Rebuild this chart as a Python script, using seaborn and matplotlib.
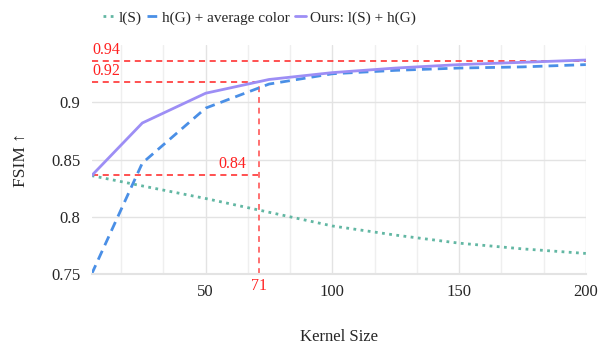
import matplotlib
matplotlib.use("Agg")
import matplotlib.pyplot as plt
import seaborn as sns
import pandas as pd
from matplotlib.ticker import MultipleLocator

kernel = [5, 25, 50, 75, 100, 125, 150, 175, 200]
l_s = [0.836, 0.827, 0.816, 0.804, 0.792, 0.784, 0.777, 0.772, 0.768]
h_g = [0.750, 0.847, 0.895, 0.916, 0.925, 0.928, 0.930, 0.931, 0.933]
ours = [0.836, 0.882, 0.908, 0.920, 0.926, 0.930, 0.933, 0.935, 0.937]

names = ["l(S)", "h(G) + average color", "Ours: l(S) + h(G)"]
colors = ["#62b7a3", "#4a8fe6", "#9d8ef5"]
styles = [(0, (1, 1.6)), (0, (3.5, 2.2)), "-"]

ref_x = 71
ref_y = [0.9358, 0.9175, 0.8363]
ref_labels = ["0.94", "0.92", "0.84"]

sns.set_theme(style="whitegrid")
plt.rcParams["font.family"] = ["Liberation Serif", "DejaVu Serif"]

fig = plt.figure(figsize=(5.99, 3.5), dpi=100)
ax = fig.add_axes([0.153, 0.217, 0.825, 0.654])

series = [l_s, h_g, ours]
for name, vals, c, ls in zip(names, series, colors, styles):
    df = pd.DataFrame({"Kernel Size": kernel, "FSIM": vals})
    sns.lineplot(data=df, x="Kernel Size", y="FSIM", ax=ax, color=c,
                 linestyle=ls, linewidth=2, label=name)

xmin, xmax = kernel[0], kernel[-1]
red = "#ff2020"
# reference lines
ax.plot([xmin, xmax], [ref_y[0]] * 2, color=red, lw=1.1, ls=(0, (4, 3)), zorder=1)
ax.plot([xmin, ref_x], [ref_y[1]] * 2, color=red, lw=1.1, ls=(0, (4, 3)), zorder=1)
ax.plot([xmin, ref_x], [ref_y[2]] * 2, color=red, lw=1.1, ls=(0, (4, 3)), zorder=1)
ax.plot([ref_x, ref_x], [0.75, ref_y[1]], color="#ff7070", lw=1.4, ls=(0, (3, 2.5)), zorder=1)

ax.text(xmin + 0.3, ref_y[0] + 0.003, ref_labels[0], color=red, fontsize=11.5, ha="left", va="bottom")
ax.text(xmin + 0.3, ref_y[1] + 0.003, ref_labels[1], color=red, fontsize=11.5, ha="left", va="bottom")
ax.text(ref_x - 5, ref_y[2] + 0.003, ref_labels[2], color=red, fontsize=11.5, ha="right", va="bottom")
ax.text(ref_x, 0.7465, str(ref_x), color=red, fontsize=11.5, ha="center", va="top")

ax.set_xlim(xmin, xmax)
ax.set_ylim(0.75, 0.95)
ax.set_xticks([50, 100, 150, 200])
ax.set_xticklabels(["50", "100", "150", "200"])
ax.xaxis.set_minor_locator(MultipleLocator(50 / 3))
ax.set_yticks([0.75, 0.8, 0.85, 0.9])
ax.set_yticklabels(["0.75", "0.8", "0.85", "0.9"])
ax.tick_params(axis="both", labelsize=12, length=0)
ax.tick_params(axis="x", pad=7)
ax.tick_params(axis="y", pad=8)
ax.grid(True, which="major", color="#e3e3e3", lw=1)
ax.grid(True, which="minor", axis="x", color="#efefef", lw=1)
for s in ["top", "right", "left"]:
    ax.spines[s].set_visible(False)
ax.spines["bottom"].set_color("#e3e3e3")
ax.spines["bottom"].set_linewidth(1.5)

ax.set_xlabel("Kernel Size", fontsize=12, labelpad=21)
ax.set_ylabel("FSIM ↑", fontsize=12.5, labelpad=16)

ax.legend(loc="center", bbox_to_anchor=(0.34, 1.12), ncol=3, frameon=False,
          fontsize=11, handlelength=0.7, handletextpad=0.3, columnspacing=0.35,
          borderaxespad=0)

fig.savefig("out.png", dpi=100)
